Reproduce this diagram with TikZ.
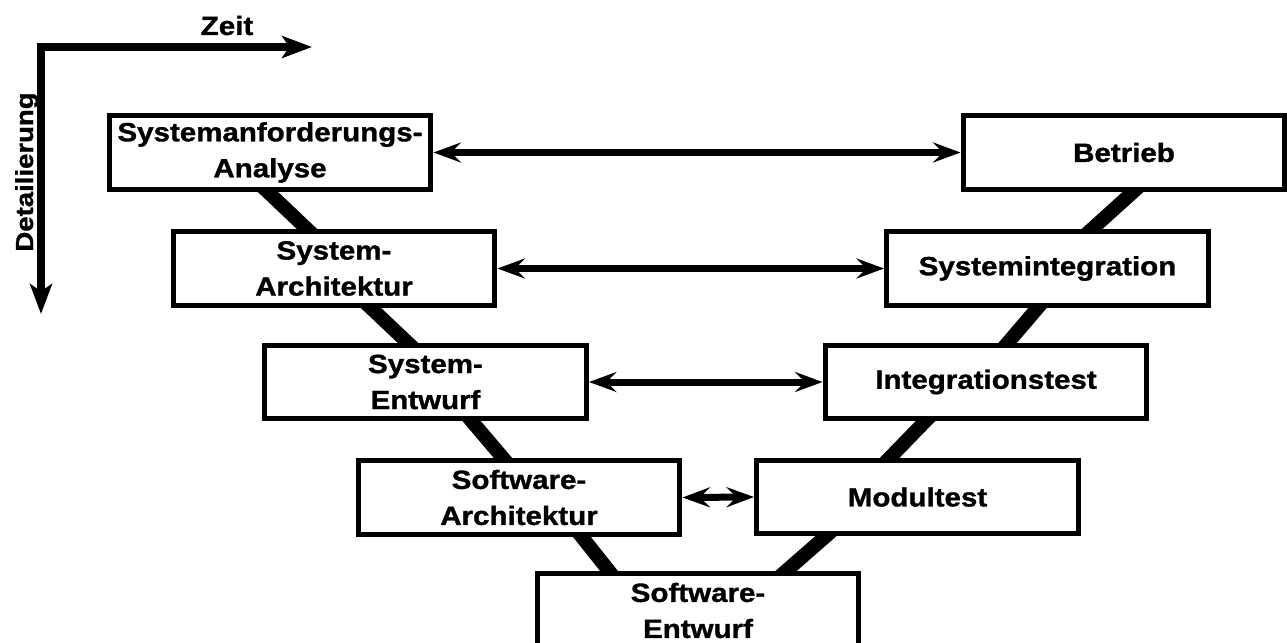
\documentclass[tikz,border=0pt]{standalone}
\usepackage{fontspec}
\setmainfont{Liberation Sans}[FakeStretch=1.12, BoldFeatures={FakeBold=1.2}]
\usetikzlibrary{calc}
\usetikzlibrary{arrows.meta}
\usetikzlibrary{backgrounds}

\begin{document}
\begin{tikzpicture}[x=0.02cm, y=-0.02cm,
  phase/.style={draw, fill=white, line width=0.1cm, minimum width=6.44cm, minimum height=1.48cm,
    inner sep=0pt, align=center, font=\fontsize{15}{20.5}\selectfont\bfseries},
  vee/.style={line width=0.28cm, shorten <=-0.16cm, shorten >=-0.16cm},
  pair/.style={line width=0.14cm,
    {Stealth[length=0.55cm,width=0.4cm,inset=0.2cm]}-{Stealth[length=0.55cm,width=0.4cm,inset=0.2cm]}},
  axis/.style={line width=0.17cm, line join=miter,
    {Stealth[length=0.6cm,width=0.44cm,inset=0.15cm]}-{Stealth[length=0.6cm,width=0.44cm,inset=0.15cm]}},
  lbl/.style={font=\fontsize{15}{18}\selectfont\bfseries}]
\useasboundingbox (0,0) rectangle (1287,642);

\coordinate (origin) at (41,47);
\coordinate (tend) at (312,47);
\coordinate (dend) at (41,314);
\draw[axis] (tend) -- (origin) -- (dend);
\node[lbl, anchor=base] (zeit) at (227,35) {Zeit};
\node[lbl, anchor=base, rotate=90, font=\fontsize{14}{17}\selectfont\bfseries] (detail) at (33,172) {Detailierung};

\node[phase] (sa) at (270,152.5) {Systemanforderungs-\\Analyse};
\node[phase] (betrieb) at (1124,152.5) {Betrieb};
\node[phase] (sarch) at (334,268.5) {System-\\Architektur};
\node[phase] (sint) at (1047.5,268.5) {Systemintegration};
\node[phase] (sentw) at (425.5,382) {System-\\Entwurf};
\node[phase] (itest) at (986,382) {Integrationstest};
\node[phase] (swarch) at (519,497.5) {Software-\\Architektur};
\node[phase] (mtest) at (917.5,497) {Modultest};
\node[phase] (swentw) at (698,610.5) {Software-\\Entwurf};

\begin{scope}[on background layer]
\draw[vee] ($(sa.south)+(-2,0)$) -- ($(sarch.north)+(-27,0)$);
\draw[vee] ($(sarch.south)+(37,0)$) -- ($(sentw.north)+(-18,0)$);
\draw[vee] ($(sentw.south)+(46.5,0)$) -- ($(swarch.north)+(-16,0)$);
\draw[vee] ($(swarch.south)+(63,0)$) -- ($(swentw.north)+(-89,0)$);
\draw[vee] ($(betrieb.south)+(9,0)$) -- ($(sint.north)+(44.5,0)$);
\draw[vee] ($(sint.south)+(-10,0)$) -- ($(itest.north)+(22,0)$);
\draw[vee] ($(itest.south)+(-61,0)$) -- ($(mtest.north)+(-27.5,0)$);
\draw[vee] ($(mtest.south)+(-92,0)$) -- ($(swentw.north)+(88,0)$);
\end{scope}

\draw[pair] (sa.east) -- (betrieb.west);
\draw[pair] (sarch.east) -- (sint.west);
\draw[pair] (sentw.east) -- (itest.west);
\draw[pair] (swarch.east) -- (mtest.west);
\end{tikzpicture}
\end{document}
